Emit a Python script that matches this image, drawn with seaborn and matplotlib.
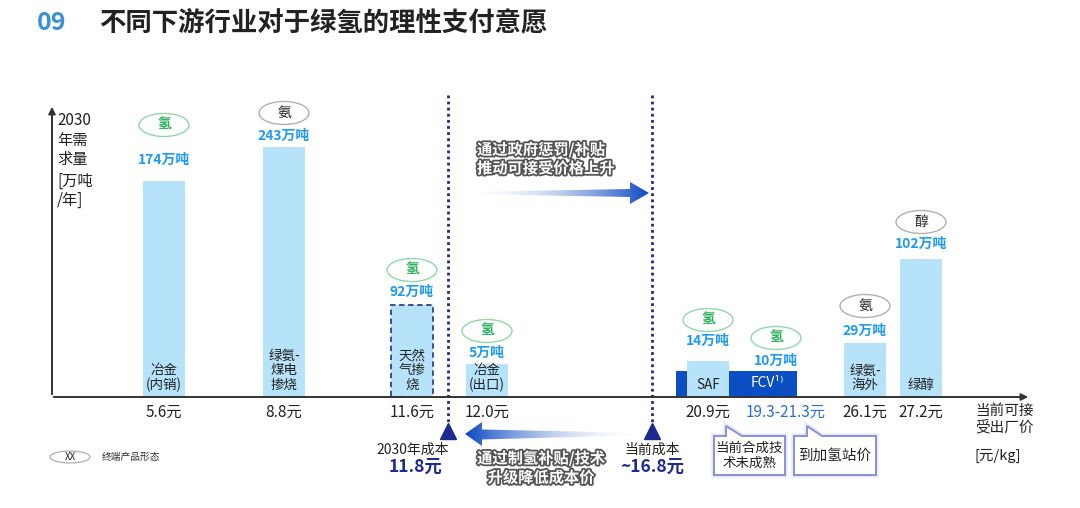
import numpy as np
import pandas as pd
import matplotlib
matplotlib.use("Agg")
import matplotlib.pyplot as plt
import seaborn as sns
from matplotlib.patches import Ellipse, Polygon
from matplotlib.colors import LinearSegmentedColormap
import matplotlib.patheffects as pe

# ---------------- data ----------------
title_no = "09"
title = "不同下游行业对于绿氢的理性支付意愿"
categories = ["冶金\n(内销)", "绿氨-\n煤电\n掺烧", "天然\n气掺\n烧", "冶金\n(出口)", "SAF", "绿氨-\n海外", "绿醇"]
demand_wt = [174, 243, 92, 5, 14, 29, 102]          # 万吨 labels
bar_height_drawn = [216, 250, 92, 33, 36, 54, 138]  # drawn bar heights (not to scale in source)
price_labels = ["5.6元", "8.8元", "11.6元", "12.0元", "20.9元", "26.1元", "27.2元"]
product_form = ["氢", "氨", "氢", "氢", "氢", "氨", "醇"]
fcv_label = "FCV¹⁾"
fcv_demand_wt = 10
fcv_height_drawn = 26
fcv_price_label = "19.3-21.3元"
y_label = "2030\n年需\n求量\n[万吨\n/年]"
x_label = "当前可接\n受出厂价"
x_unit = "[元/kg]"
cost_2030_title, cost_2030 = "2030年成本", "11.8元"
cost_now_title, cost_now = "当前成本", "~16.8元"
top_arrow_text = "通过政府惩罚/补贴\n推动可接受价格上升"
bottom_arrow_text = "通过制氢补贴/技术\n升级降低成本价"
callout_1 = "当前合成技\n术未成熟"
callout_2 = "到加氢站价"
legend_text = "终端产品形态"

# ---------------- layout ----------------
BASE = 397  # baseline pixel row
def Y(p):
    return BASE - p

bar_x = [164, 284, 412, 487, 708, 865, 921]
value_label_y = [160, 136, 292, 353, 341, 331, 244]
ellipse_y = [125, 113, 270, 331, 320, 306, 222]
fcv_x, fcv_value_y, fcv_ellipse_y = 776, 361, 338

LIGHT = "#b6e3fa"
DARK = "#0b4dc2"
NAVY = "#1c2a8f"
VALUE_BLUE = "#1e9af0"
GREEN = "#2db35d"

sns.set_theme(style="white")
plt.rcParams["font.family"] = ["Noto Sans CJK SC", "DejaVu Sans"]
plt.rcParams["axes.unicode_minus"] = False

fig = plt.figure(figsize=(10.8, 5.08), dpi=100)
fig.patch.set_facecolor("white")
ax = fig.add_axes([0, 0, 1, 1])
ax.set_facecolor("white")

# dark FCV band behind SAF
ax.bar([736.5], [fcv_height_drawn], width=121, color=DARK, zorder=2, linewidth=0)

df = pd.DataFrame({"x": bar_x, "h": bar_height_drawn, "cat": categories})
sns.barplot(data=df, x="x", y="h", native_scale=True, width=42 / 56, color=LIGHT,
            saturation=1, ax=ax, zorder=3, linewidth=0, errorbar=None)
for patch, cat in zip(ax.patches[1:], categories):
    if cat.startswith("天然"):
        patch.set_edgecolor("#2f3f9e")
        patch.set_linestyle((0, (3, 2)))
        patch.set_linewidth(1.3)

ax.set_xlim(0, 1080)
ax.set_ylim(BASE - 508, BASE)
ax.axis("off")

# axes lines
ax.annotate("", xy=(52, Y(104)), xytext=(52, Y(397)),
            arrowprops=dict(arrowstyle="-|>", color="#333", lw=1.4, mutation_scale=10), zorder=5)
ax.annotate("", xy=(1031, Y(397)), xytext=(51, Y(397)),
            arrowprops=dict(arrowstyle="-|>", color="#333", lw=1.4, mutation_scale=10), zorder=5)

# titles
ax.text(37, Y(23), title_no, color="#3a8fd9", fontsize=18, fontweight="bold", va="center", ha="left")
ax.text(99, Y(23), title, color="#222", fontsize=19, fontweight="bold", va="center", ha="left")

# y label
ax.text(57, Y(112), "\n".join(y_label.split("\n")[:3]), fontsize=11, va="top", ha="left",
        linespacing=1.2, color="#222")
ax.text(57, Y(173), "\n".join(y_label.split("\n")[3:]), fontsize=11, va="top", ha="left",
        linespacing=1.1, color="#222")

def oval(x, py, txt, green):
    e = Ellipse((x, Y(py)), 50, 23, facecolor="white",
                edgecolor="#8fd8a8" if green else "#b0b0b0", lw=1.0, zorder=4)
    ax.add_patch(e)
    ax.text(x, Y(py), txt, fontsize=10, fontweight="bold" if green else "normal",
            color=GREEN if green else "#222", ha="center", va="center", zorder=5)

for i, x in enumerate(bar_x):
    oval(x, ellipse_y[i], product_form[i], product_form[i] == "氢")
    ax.text(x, Y(value_label_y[i]), f"{demand_wt[i]}万吨", color=VALUE_BLUE, fontsize=10,
            fontweight="bold", ha="center", va="center", zorder=5)
    ax.text(x, Y(392), categories[i], fontsize=9.7, ha="center", va="bottom",
            linespacing=1.05, color="#222", zorder=5)
    ax.text(x, Y(412), price_labels[i], fontsize=11, ha="center", va="center", color="#222")

# FCV
oval(fcv_x, fcv_ellipse_y, "氢", True)
ax.text(fcv_x, Y(fcv_value_y), f"{fcv_demand_wt}万吨", color=VALUE_BLUE, fontsize=10,
        fontweight="bold", ha="center", va="center", zorder=5)
ax.text(767, Y(383), fcv_label, fontsize=10, color="white", ha="center", va="center", zorder=5)
ax.text(786, Y(412), fcv_price_label, fontsize=11, ha="center", va="center", color="#2a6fd0")

# x label
ax.text(975, Y(404), x_label, fontsize=10.5, ha="left", va="top", linespacing=1.2, color="#222")
ax.text(975, Y(456), x_unit, fontsize=10.5, ha="left", va="center", color="#222")

# dotted cost lines and triangles
for x in (448, 652):
    ax.plot([x, x], [Y(95), Y(426)], color=NAVY, lw=2, ls=(0, (1, 1.2)), zorder=4)
    ax.plot([x], [Y(431)], marker="^", markersize=11, color=NAVY, zorder=5)

ax.text(413, Y(450), cost_2030_title, fontsize=10, ha="center", va="center", color="#222")
ax.text(416, Y(468), cost_2030, fontsize=12.5, fontweight="bold", ha="center", va="center", color=NAVY)
ax.text(652, Y(450), cost_now_title, fontsize=10, ha="center", va="center", color="#222")
ax.text(652, Y(468), cost_now, fontsize=12.5, fontweight="bold", ha="center", va="center", color=NAVY)

# gradient arrows
def grad_arrow(pts, x0, x1, y0, y1, to_right):
    poly = Polygon([(px, Y(py)) for px, py in pts], closed=True, facecolor="none",
                   edgecolor="none", transform=ax.transData)
    ax.add_patch(poly)
    cols = [(1, 1, 1, 0), (0.04, 0.28, 0.76, 1)]
    if not to_right:
        cols = cols[::-1]
    cmap = LinearSegmentedColormap.from_list("g", cols)
    grad = np.linspace(0, 1, 256).reshape(1, -1)
    im = ax.imshow(grad, extent=[x0, x1, Y(y1), Y(y0)], cmap=cmap, aspect="auto",
                   interpolation="bilinear", zorder=4)
    im.set_clip_path(poly)

grad_arrow([(460, 192), (630, 189), (630, 182), (649, 193), (630, 204), (630, 197), (460, 194)],
           460, 649, 180, 206, True)
grad_arrow([(465, 434), (482, 422), (482, 429.5), (646, 433), (646, 435), (482, 439.5), (482, 446)],
           465, 646, 420, 448, False)

stroke = [pe.withStroke(linewidth=2.6, foreground="#555555")]
ax.text(477, Y(159), top_arrow_text, fontsize=11, fontweight="bold", color="white",
        ha="left", va="center", linespacing=1.2, path_effects=stroke, zorder=6)
ax.text(541, Y(468), bottom_arrow_text, fontsize=11, fontweight="bold", color="white",
        ha="center", va="center", linespacing=1.25, path_effects=stroke, zorder=6)

# callouts
def callout(pts, cx, cy, txt, fs):
    for lw, a in ((4, 0.18), (1.4, 1)):
        ax.add_patch(Polygon([(px, Y(py)) for px, py in pts], closed=True,
                             facecolor="white" if lw < 2 else "none",
                             edgecolor="#8a8fdc", lw=lw, alpha=a, zorder=5, joinstyle="miter"))
    ax.text(cx, Y(cy), txt, fontsize=fs, ha="center", va="center", linespacing=1.1,
            color="#222", zorder=6)

callout([(714, 436), (726, 436), (726, 426), (742, 436), (785, 436), (785, 475), (714, 475)],
        749.5, 455, callout_1, 9.7)
callout([(794, 436), (807, 436), (807, 426), (822, 436), (876, 436), (876, 475), (794, 475)],
        835, 456, callout_2, 10.5)

# legend
ax.add_patch(Ellipse((70, Y(457)), 40, 12, facecolor="white", edgecolor="#b0b0b0", lw=0.9))
ax.text(70, Y(457), "XX", fontsize=7, ha="center", va="center", color="#222")
ax.text(102, Y(457), legend_text, fontsize=7, ha="left", va="center", color="#333")

fig.savefig("out.png", dpi=100, facecolor="white")
